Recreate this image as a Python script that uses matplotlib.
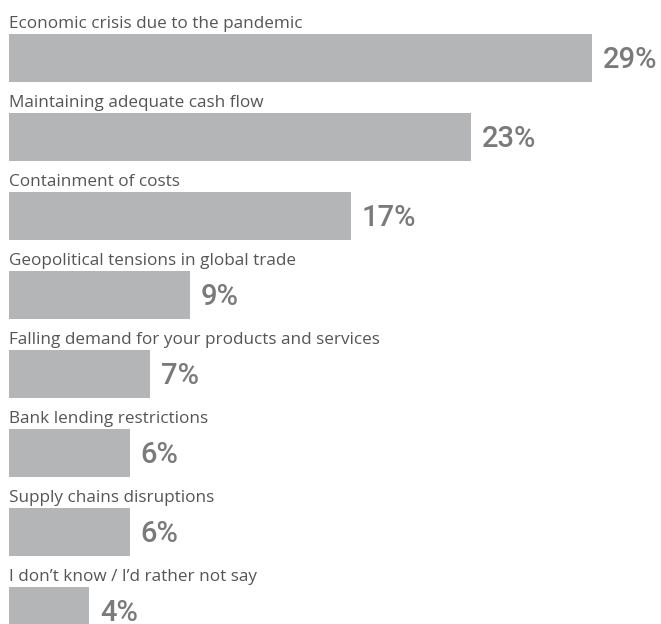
import matplotlib.pyplot as plt

categories = [
    "Economic crisis due to the pandemic",
    "Maintaining adequate cash flow",
    "Containment of costs",
    "Geopolitical tensions in global trade",
    "Falling demand for your products and services",
    "Bank lending restrictions",
    "Supply chains disruptions",
    "I don\u2019t know / I\u2019d rather not say",
]
values = [29, 23, 17, 9, 7, 6, 6, 4]

W, H = 661, 624
fig = plt.figure(figsize=(W / 100, H / 100), dpi=100)
ax = fig.add_axes([9 / W, 0, 1 - 9 / W, 1])

px_per_pct = 20.1
pitch = 79.0
ax.set_xlim(0, (W - 9) / px_per_pct)
ax.set_ylim((H - 58) / pitch, -58 / pitch)
ax.axis("off")

bar_h = 48 / pitch
ys = list(range(len(values)))
ax.barh(ys, values, height=bar_h, color="#b3b5b6", left=0)

for i, (cat, v) in enumerate(zip(categories, values)):
    ax.text(0, i - bar_h / 2 - 6 / pitch, cat, ha="left", va="baseline",
            fontsize=12.3, color="#555555", family="Open Sans")
    ax.text(v + 11 / px_per_pct, i + 10 / pitch, f"{v}%", ha="left", va="baseline",
            fontsize=21, color="#7a7a7a", weight="medium", family="Roboto")

fig.savefig("out.png", dpi=100)
